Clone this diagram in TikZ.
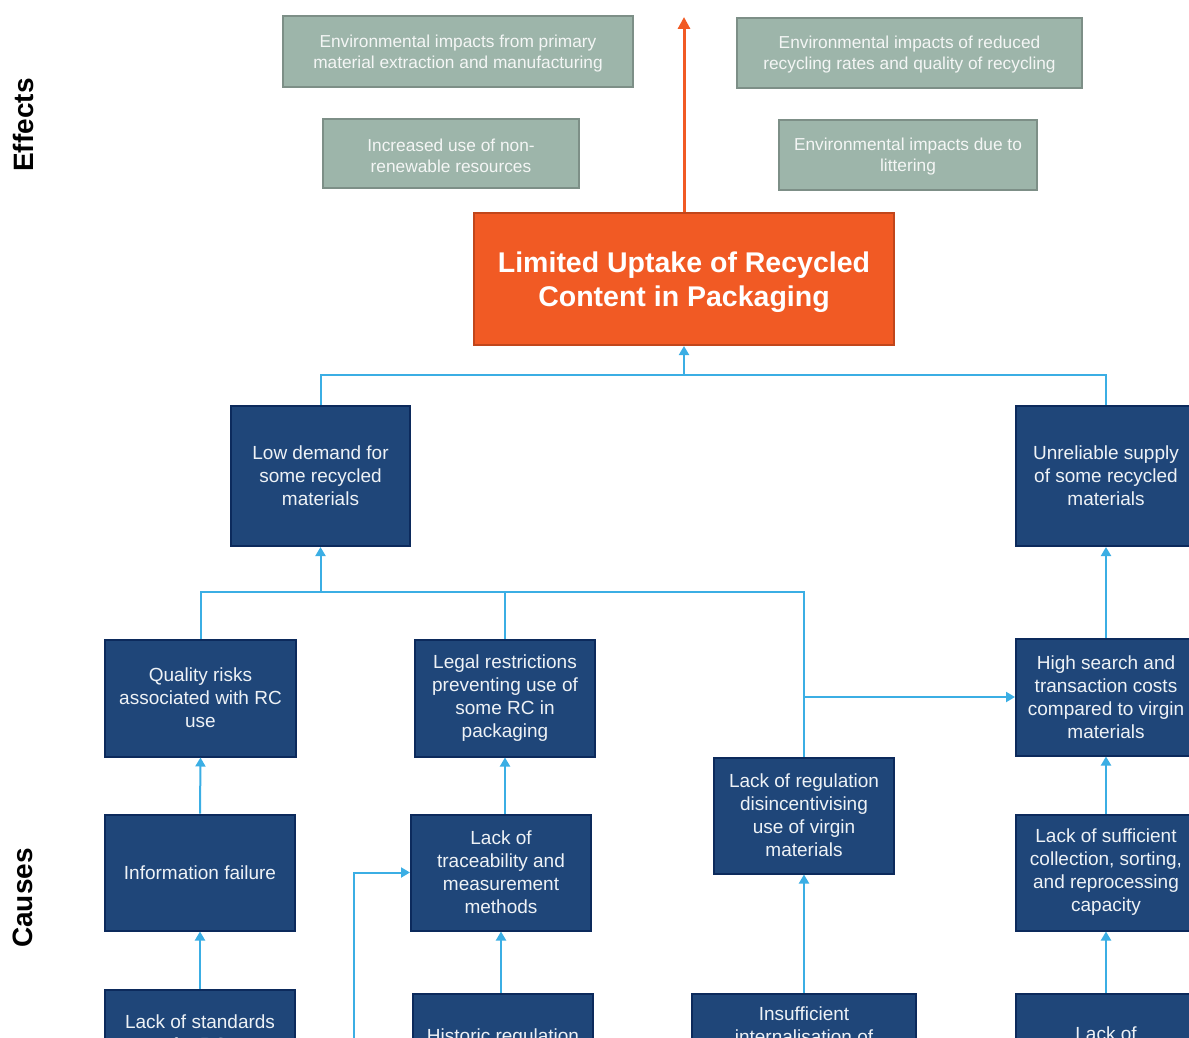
\documentclass[tikz,border=0pt]{standalone}
\usepackage{fontspec}
\setmainfont{Liberation Sans}
\usetikzlibrary{arrows.meta}
\definecolor{gfill}{HTML}{9DB5AA}
\definecolor{gline}{HTML}{7D8F87}
\definecolor{gtext}{HTML}{F4F6F5}
\definecolor{ofill}{HTML}{F15A24}
\definecolor{oline}{HTML}{C1461B}
\definecolor{bfill}{HTML}{1F4679}
\definecolor{bline}{HTML}{0C2A5C}
\definecolor{btext}{HTML}{EEF2F6}
\definecolor{conn}{HTML}{3BAEE4}
\tikzset{
  effbox/.style={draw=gline, fill=gfill, line width=2pt, inner sep=0pt},
  efftext/.style={inner sep=0pt, align=center, text=gtext, font=\fontsize{17.3}{21}\selectfont},
  corebox/.style={draw=oline, fill=ofill, line width=2pt, inner sep=0pt},
  coretext/.style={inner sep=0pt, align=center, text=white, font=\fontsize{28.5}{34}\selectfont\bfseries},
  causebox/.style={draw=bline, fill=bfill, line width=2pt, inner sep=0pt, align=center,
    text=btext, font=\fontsize{19}{23}\selectfont},
  btxt/.style={inner sep=0pt, anchor=base, text=btext, font=\fontsize{19}{23}\selectfont},
  sidelabel/.style={rotate=90, inner sep=0pt, font=\fontsize{28}{30}\selectfont\bfseries},
  cline/.style={draw=conn, line width=2pt},
  carrow/.style={cline, -{Triangle[length=9pt,width=10pt]}},
  oarrow/.style={draw=ofill, line width=3pt, -{Triangle[length=12pt,width=12pt]}}
}
\begin{document}
\begin{tikzpicture}[x=1pt,y=-1pt]
\useasboundingbox (0,0) rectangle (1189,1038);
\clip (0,0) rectangle (1189,1038);

% side labels
\node[sidelabel] (effects) at (23,125) {Effects};
\node[sidelabel] (causes) at (23,898) {Causes};

% effects
\node[effbox, minimum width=350, minimum height=71] (e1) at (458,51.5) {};
\node[efftext] (e1t) at (458,53.5)
  {Environmental impacts from primary\\material extraction and manufacturing};
\node[effbox, minimum width=345, minimum height=70] (e2) at (909.5,53) {};
\node[efftext] (e2t) at (909.5,55)
  {Environmental impacts of reduced\\recycling rates and quality of recycling};
\node[effbox, minimum width=256, minimum height=69] (e3) at (451,153.5) {};
\node[efftext] (e3t) at (451,155.5)
  {Increased use of non-\\renewable resources};
\node[effbox, minimum width=258, minimum height=70] (e4) at (908,155) {};
\node[efftext] (e4t) at (908,157)
  {Environmental impacts due to\\littering};

% core problem
\node[corebox, minimum width=420, minimum height=132] (core) at (684,279) {};
\node[coretext] (coret) at (684,282.5)
  {Limited Uptake of Recycled\\Content in Packaging};
\coordinate (top) at (684,17);
\draw[oarrow] (core.north) -- (top);

% level 1
\node[causebox, minimum width=179, minimum height=140] (lowd) at (320.5,476)
  {Low demand for\\some recycled\\materials};
\node[causebox, minimum width=180, minimum height=140] (unrel) at (1106,476)
  {Unreliable supply\\of some recycled\\materials};

% level 2
\node[causebox, minimum width=191, minimum height=117] (qual) at (200.5,698)
  {Quality risks\\associated with RC\\use};
\node[causebox, minimum width=180, minimum height=117] (legal) at (505,698)
  {Legal restrictions\\preventing use of\\some RC in\\packaging};
\node[causebox, minimum width=180, minimum height=117] (highs) at (1106,697)
  {High search and\\transaction costs\\compared to virgin\\materials};
\node[causebox, minimum width=180, minimum height=116] (lackreg) at (804,815.5)
  {Lack of regulation\\disincentivising\\use of virgin\\materials};

% level 3
\node[causebox, minimum width=190, minimum height=116] (info) at (200,872.5)
  {Information failure};
\node[causebox, minimum width=180, minimum height=116] (trace) at (501,872.5)
  {Lack of\\traceability and\\measurement\\methods};
\node[causebox, minimum width=180, minimum height=116] (suff) at (1106,872.5)
  {Lack of sufficient\\collection, sorting,\\and reprocessing\\capacity};

% level 4 (cut off at the bottom)
\node[causebox, minimum width=190, minimum height=118, anchor=north] (b1) at (200,989) {};
\node[causebox, minimum width=180, minimum height=118, anchor=north] (b2) at (503,993) {};
\node[causebox, minimum width=224, minimum height=118, anchor=north] (b3) at (804,993) {};
\node[causebox, minimum width=180, minimum height=118, anchor=north] (b4) at (1106,993) {};
\node[btxt] (b1a) at (200,1028) {Lack of standards};
\node[btxt] (b1b) at (200,1051) {for RC};
\node[btxt] (b2a) at (503,1042) {Historic regulation};
\node[btxt] (b3a) at (804,1020) {Insufficient};
\node[btxt] (b3b) at (804,1043) {internalisation of};
\node[btxt] (b4a) at (1106,1040) {Lack of};

% connectors: level 1 -> core
\coordinate (j1) at (684,375);
\draw[carrow] (lowd.north) |- (j1) -- (core.south);
\draw[cline] (unrel.north) |- (j1);

% level 2 -> low demand
\coordinate (j2) at (320.5,592);
\draw[carrow] (qual.north) |- (j2) -- (lowd.south);
\draw[cline] (legal.north) |- (j2);
\draw[cline] (lackreg.north) |- (j2);
\draw[carrow] (lackreg.north |- highs.west) -- (highs.west);

% high search -> unreliable
\draw[carrow] (highs.north) -- (unrel.south);

% level 3 -> level 2
\draw[carrow] (info.north) -- (qual.south);
\draw[carrow] (trace.north -| legal.south) -- (legal.south);
\draw[carrow] (suff.north) -- (highs.south);

% level 4 -> level 3
\draw[carrow] (b1.north) -- (info.south);
\draw[carrow] (b2.north -| trace.south) -- (trace.south);
\draw[carrow] (b3.north) -- (lackreg.south);
\draw[carrow] (b4.north) -- (suff.south);

% side feed into traceability
\coordinate (src) at (354,1060);
\draw[carrow] (src) |- (trace.west);
\end{tikzpicture}
\end{document}
